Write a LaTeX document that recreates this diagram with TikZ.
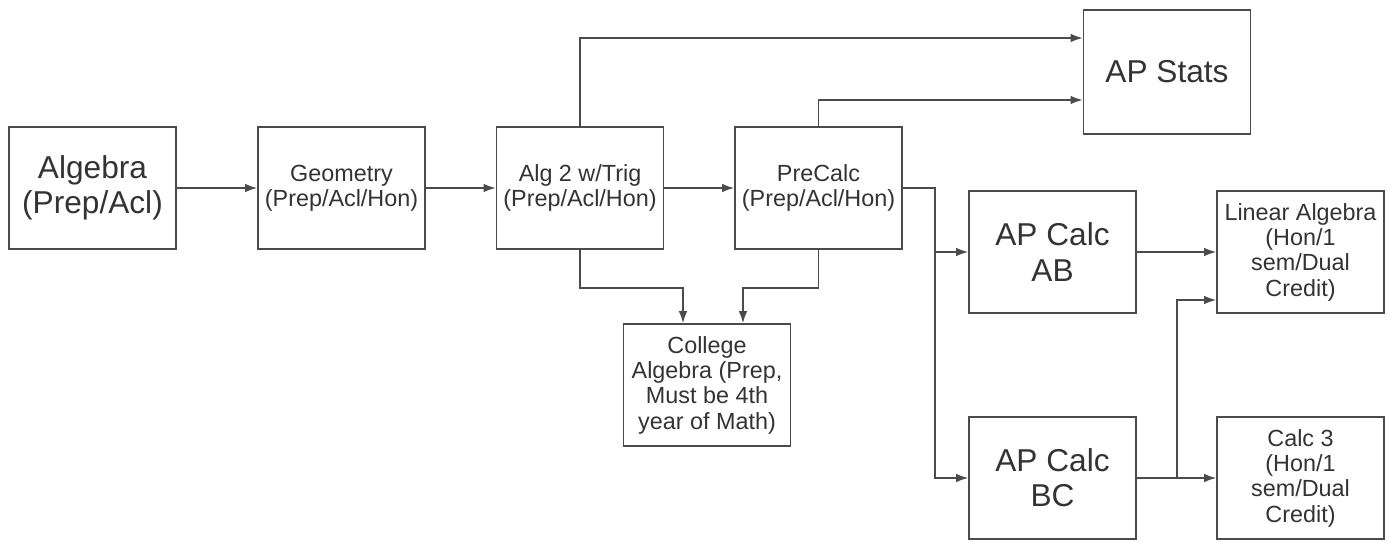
\documentclass[tikz,border=0pt]{standalone}
\usepackage{fontspec}
\setmainfont{Liberation Sans}
\usepackage{tikz}
\usetikzlibrary{arrows, arrows.meta, positioning, calc}
\definecolor{courseline}{RGB}{75,75,75}
\definecolor{coursetext}{RGB}{51,51,51}

\begin{document}
\begin{tikzpicture}[
    x=0.02cm, y=-0.02cm,
    >={Latex[length=2.4mm, width=1.7mm]},
    course/.style={rectangle, draw=courseline, line width=0.9pt, minimum width=3.34cm, minimum height=2.44cm, inner sep=0pt, align=center, text=coursetext, font=\fontsize{13.3}{14.4}\selectfont},
    bigcourse/.style={course, font=\fontsize{18}{20}\selectfont},
    link/.style={->, draw=courseline, line width=0.85pt}
]
\useasboundingbox (0,0) rectangle (1390,542);

\node[bigcourse] (algebra) at (92.5, 188) {Algebra\\(Prep/Acl)};
\node[course] (geometry) at (341.5, 188) {Geometry\\(Prep/Acl/Hon)};
\node[course] (algtwo) at (580, 188) {Alg 2 w/Trig\\(Prep/Acl/Hon)};
\node[course] (precalc) at (818.5, 188) {PreCalc\\(Prep/Acl/Hon)};
\node[bigcourse, minimum height=2.48cm] (stats) at (1167, 72) {AP Stats};

\node[bigcourse] (calcab) at (1052.5, 252) {AP Calc\\AB};
\node[bigcourse] (calcbc) at (1052.5, 478) {AP Calc\\BC};
\node[course] (linalg) at (1300.5, 252) {Linear Algebra\\(Hon/1\\sem/Dual\\Credit)};
\node[course] (calcthree) at (1300.5, 478) {Calc 3\\(Hon/1\\sem/Dual\\Credit)};
\node[course] (college) at (707, 385) {College\\Algebra (Prep,\\Must be 4th\\year of Math)};

\draw[link] (algebra) -- (geometry);
\draw[link] (geometry) -- (algtwo);
\draw[link] (algtwo) -- (precalc);

\draw[link] (algtwo.north) |- ([yshift=0.68cm]stats.west);
\draw[link] (precalc.north) |- ([yshift=-0.56cm]stats.west);

\coordinate (calcsplit) at (935, 188);
\draw[link] (precalc.east) -- (calcsplit) |- (calcab.west);
\draw[link] (calcsplit) |- (calcbc.west);

\draw[link] (algtwo.south) -- ++(0, 38) -| ([xshift=-0.48cm]college.north);
\draw[link] (precalc.south) -- ++(0, 38) -| ([xshift=0.72cm]college.north);

\draw[link] (calcab) -- (linalg);
\draw[link] (calcbc) -- (calcthree);
\draw[link] (calcbc.east) -- ++(40, 0) |- ([yshift=-0.96cm]linalg.west);

\end{tikzpicture}
\end{document}
